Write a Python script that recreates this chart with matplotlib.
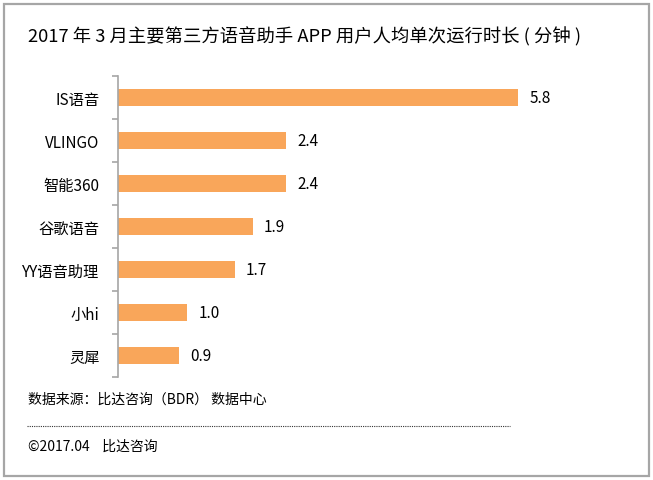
import matplotlib
matplotlib.use('Agg')
import matplotlib.pyplot as plt
from matplotlib.patches import Rectangle
from matplotlib.lines import Line2D

plt.rcParams['font.family'] = ['Noto Sans CJK SC', 'DejaVu Sans']

apps = ['IS语音', 'VLINGO', '智能360', '谷歌语音', 'YY语音助理', '小hi', '灵犀']
# bar lengths as measured on the picture; printed labels are rounded
minutes = [5.8, 2.44, 2.44, 1.96, 1.7, 1.01, 0.89]
value_labels = ['5.8', '2.4', '2.4', '1.9', '1.7', '1.0', '0.9']

title = '2017 年 3 月主要第三方语音助手 APP 用户人均单次运行时长 ( 分钟 )'
source = '数据来源：比达咨询（BDR） 数据中心'
copyright_txt = '©2017.04    比达咨询'

W, H = 653, 481
fig = plt.figure(figsize=(W / 100, H / 100), dpi=100)

# frame around the whole picture
fig.add_artist(Rectangle((4 / W, 4 / H), 645 / W, 472 / H, transform=fig.transFigure,
                         fill=False, edgecolor='#a6a6a6', linewidth=1.6))

ax = fig.add_axes([117.5 / W, (H - 378) / H, 483.5 / W, 301 / H])
y = list(range(len(apps)))
ax.barh(y, minutes, height=0.4, color='#F9A65A')
for yi, v, lab in zip(y, minutes, value_labels):
    ax.annotate(lab, (v, yi), xytext=(8, 0), textcoords='offset points',
                va='center', ha='left', fontsize=11)

ax.set_xlim(0, 7)
ax.set_ylim(len(apps) - 0.5, -0.5)
ax.set_yticks(y)
ax.set_yticklabels(apps, fontsize=11)
ax.tick_params(axis='y', which='major', length=0, pad=13)
ax.set_yticks([i - 0.5 for i in range(len(apps) + 1)], minor=True)
ax.tick_params(axis='y', which='minor', length=4, width=1.2, color='#a6a6a6')
ax.set_xticks([])
for s in ['top', 'right', 'bottom']:
    ax.spines[s].set_visible(False)
ax.spines['left'].set_color('#a6a6a6')
ax.spines['left'].set_linewidth(1.2)

fig.text(28 / W, 1 - 37 / H, title, fontsize=13.2, va='center', ha='left')
fig.text(28 / W, 1 - 400 / H, source, fontsize=10, va='center', ha='left')
fig.add_artist(Line2D([27 / W, 510 / W], [1 - 427 / H] * 2, transform=fig.transFigure,
                      color='#333333', linewidth=0.8, linestyle=(0, (1, 1))))
fig.text(28 / W, 1 - 447 / H, copyright_txt, fontsize=10, va='center', ha='left')

fig.savefig('out.png', dpi=100)
